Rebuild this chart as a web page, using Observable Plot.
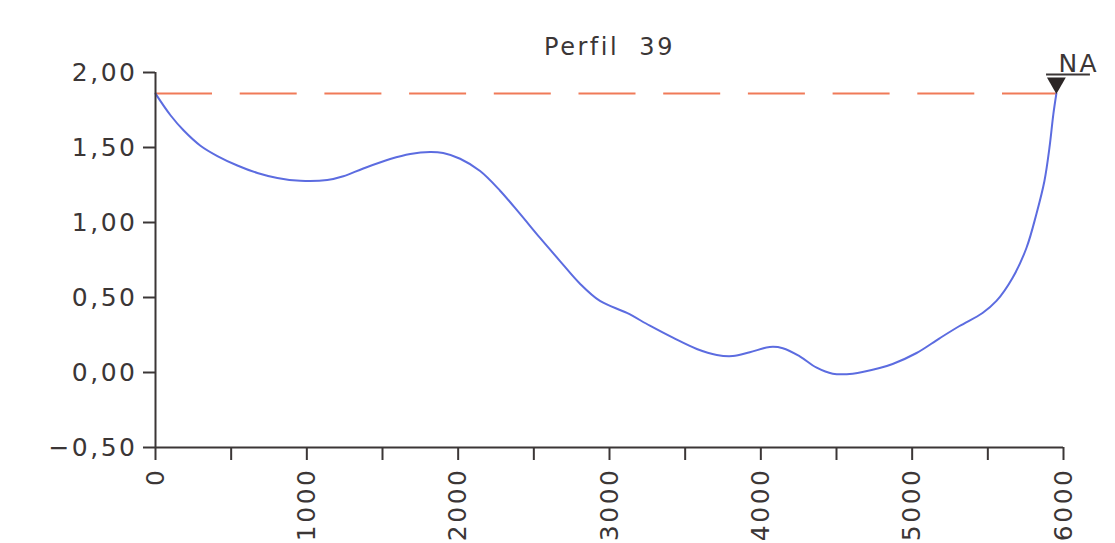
<!DOCTYPE html>
<html><head><meta charset="utf-8">
<script src="https://cdn.jsdelivr.net/npm/d3@7"></script>
<script src="https://cdn.jsdelivr.net/npm/@observablehq/plot@0.6"></script>
<style>
body{margin:0;background:#fff;}
#chart svg text{letter-spacing:2.5px;}
</style></head><body><div id="chart"></div>
<script>
const title = "Perfil\u00a0\u00a039";
const distance = [0, 99, 185, 297, 409, 541, 673, 805, 957, 1135, 1241, 1373, 1551, 1683, 1815, 1901, 2013, 2145, 2277, 2409, 2541, 2673, 2805, 2937, 3115, 3267, 3419, 3577, 3709, 3815, 3927, 4059, 4145, 4257, 4369, 4475, 4607, 4785, 4871, 5029, 5181, 5313, 5465, 5557, 5663, 5755, 5821, 5874, 5907, 5933, 5953];
const elevation = [1.859, 1.715, 1.615, 1.512, 1.443, 1.380, 1.330, 1.297, 1.278, 1.283, 1.308, 1.360, 1.423, 1.457, 1.470, 1.463, 1.425, 1.343, 1.212, 1.057, 0.897, 0.743, 0.592, 0.477, 0.397, 0.312, 0.232, 0.157, 0.117, 0.110, 0.135, 0.170, 0.162, 0.108, 0.032, -0.008, -0.008, 0.030, 0.057, 0.130, 0.228, 0.310, 0.397, 0.477, 0.630, 0.830, 1.057, 1.277, 1.497, 1.723, 1.860];
const waterLevel = 1.86;
const naDistance = 5953;
const naLabel = "NA";
const yTicks = [-0.5, 0, 0.5, 1, 1.5, 2];
const xTicks = [0, 500, 1000, 1500, 2000, 2500, 3000, 3500, 4000, 4500, 5000, 5500, 6000];
const xLabels = [0, 1000, 2000, 3000, 4000, 5000, 6000];

const profile = distance.map((d, i) => ({d, z: elevation[i]}));
const ink = "#3b3636";
const fmtY = v => (v < 0 ? "\u2212" : "") + Math.abs(v).toFixed(2).replace(".", ",");

const chart = Plot.plot({
  width: 1115, height: 543,
  marginLeft: 155, marginRight: 52, marginTop: 72, marginBottom: 96,
  x: {domain: [0, 6000]},
  y: {domain: [-0.5, 2]},
  style: {fontFamily: "DejaVu Sans", fontSize: "25px", color: ink, background: "#fff"},
  marks: [
    Plot.ruleY([waterLevel], {x1: 0, x2: naDistance, stroke: "#f07a58", strokeWidth: 2, strokeDasharray: "57,27.7"}),
    Plot.line(profile, {x: "d", y: "z", curve: "catmull-rom", stroke: "#5c6ce0", strokeWidth: 2}),
    Plot.ruleX([0], {stroke: ink, strokeWidth: 2}),
    Plot.ruleY([-0.5], {x1: 0, x2: 6000, stroke: ink, strokeWidth: 2}),
    Plot.axisY({ticks: yTicks, tickFormat: fmtY, tickSize: 12, tickPadding: 6, strokeWidth: 2, fontSize: 25}),
    Plot.axisX({ticks: xTicks, tickFormat: d => xLabels.includes(d) ? String(d) : "", tickRotate: -90, tickSize: 13, tickPadding: 7, strokeWidth: 2, fontSize: 25}),
    Plot.dot([{x: naDistance, y: waterLevel}], {x: "x", y: "y", symbol: "triangle", rotate: 180, r: 7, fill: "#2b2626", stroke: "none", dy: -10.5}),
    Plot.ruleY([waterLevel], {x1: naDistance - 65, x2: naDistance + 225, dy: -19, stroke: ink, strokeWidth: 2}),
    Plot.text([naLabel], {x: naDistance, y: waterLevel, dx: 2, dy: -30, textAnchor: "start", fontSize: 25}),
    Plot.text([title], {frameAnchor: "top", dy: -35, fontSize: 24})
  ]
});
document.getElementById("chart").append(chart);
</script></body></html>
